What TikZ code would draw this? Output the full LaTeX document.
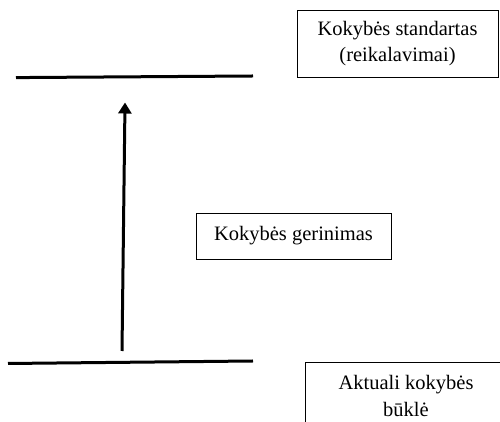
\documentclass[tikz,border=0pt]{standalone}
\usepackage{fontspec}
\setmainfont{Liberation Serif}
\usetikzlibrary{arrows.meta}
\begin{document}
\begin{tikzpicture}[x=1pt,y=1pt,
  box/.style={draw=black,line width=0.9pt,inner sep=0pt,align=center,font=\fontsize{20.5}{26}\selectfont},
  level/.style={line width=3pt},
  upar/.style={line width=3pt,-{Triangle[width=13pt,length=11pt]}}]
\useasboundingbox (0,0) rectangle (500,422);
\clip (0,0) rectangle (500,422);
\fill[white] (0,0) rectangle (500,422);
% boxes
\node[box,minimum width=201pt,minimum height=67pt] (std) at (397.5,378.5) {Kokybės standartas\\(reikalavimai)};
\node[box,minimum width=195pt,minimum height=46pt] (ger) at (293.5,186) {Kokybės gerinimas};
\node[box,minimum width=202pt,minimum height=70pt,text depth=0pt] (akt) at (406,25) {};
\node[align=center,font=\fontsize{20.5}{26}\selectfont,anchor=base] (akttxt) at (406,32) {Aktuali kokybės};
\node[font=\fontsize{20.5}{26}\selectfont,anchor=base] (aktb) at (406,5.5) {būklė};
% level lines
\coordinate (t1) at (16,344.4);
\coordinate (t2) at (253,346);
\coordinate (b1) at (8,58.5);
\coordinate (b2) at (253,61);
\draw[level] (t1) -- (t2);
\draw[level] (b1) -- (b2);
% arrow
\coordinate (a1) at (122,71);
\coordinate (a2) at (125,319.5);
\draw[upar] (a1) -- (a2);
\end{tikzpicture}
\end{document}
